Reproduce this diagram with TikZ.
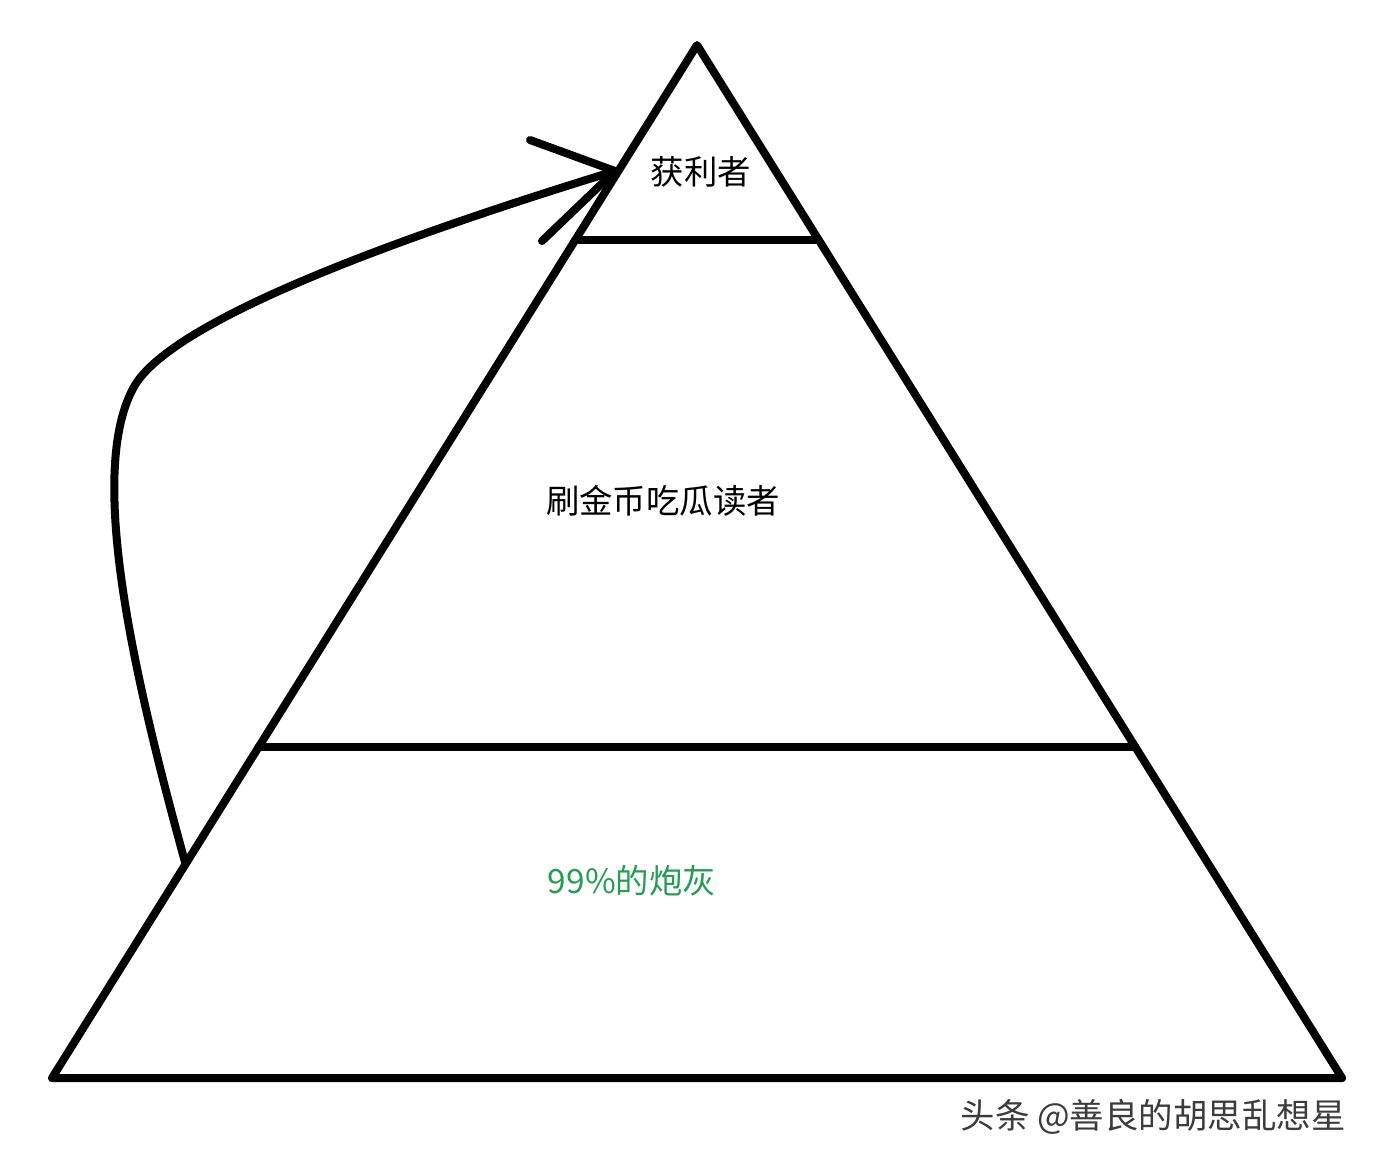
\documentclass[tikz,border=0pt]{standalone}
\usepackage{fontspec}
\usepackage{xcolor}
\usetikzlibrary{calc}
\newfontfamily\cjk{Noto Sans CJK SC}
\definecolor{ashgreen}{RGB}{36,158,82}
\definecolor{markgray}{RGB}{60,60,60}

\begin{document}
\begin{tikzpicture}[x=0.01cm,y=-0.01cm]
					\tikzstyle{stroke} = [draw=black,line width=0.08cm,line join=round,line cap=round]
					\tikzstyle{label} = [font=\cjk\fontsize{9.5pt}{11pt}\selectfont,inner sep=0pt]
					\useasboundingbox[fill=white] (0,0) rectangle (1380,1166);
					\coordinate (top) at (697,45);
					\coordinate (bl) at (52,1078);
					\coordinate (br) at (1342,1078);
					\coordinate (l1) at ($(top)!0.189!(bl)$);
					\coordinate (r1) at ($(top)!0.189!(br)$);
					\coordinate (l2) at ($(top)!0.680!(bl)$);
					\coordinate (r2) at ($(top)!0.680!(br)$);
					\draw[stroke] (top)--(bl)--(br)--cycle;
					\draw[stroke] (l1)--(r1);
					\draw[stroke] (l2)--(r2);
					\node[label] (winner) at (701,172) {获利者};
					\node[label] (reader) at (663,501) {刷金币吃瓜读者};
					\node[label,text=ashgreen] (fodder) at (632,881) {99\%的炮灰};
					% arrow from the bottom layer up to the top
					\coordinate (tail) at (185,862);
					\coordinate (bend) at (135,385);
					\coordinate (head) at (615,171);
					\coordinate (wing1) at (530,140);
					\coordinate (wing2) at (542,241);
					\draw[stroke] (tail) .. controls (135,680) and (85,470) .. (bend)
						.. controls (175,320) and (390,240) .. (head);
					\draw[stroke] (wing1)--(head)--(wing2);
					\node[label,font=\cjk\fontsize{9.8pt}{11pt}\selectfont,text=markgray] (mark) at (1153,1117) {头条 @善良的胡思乱想星};
					\end{tikzpicture}
\end{document}
